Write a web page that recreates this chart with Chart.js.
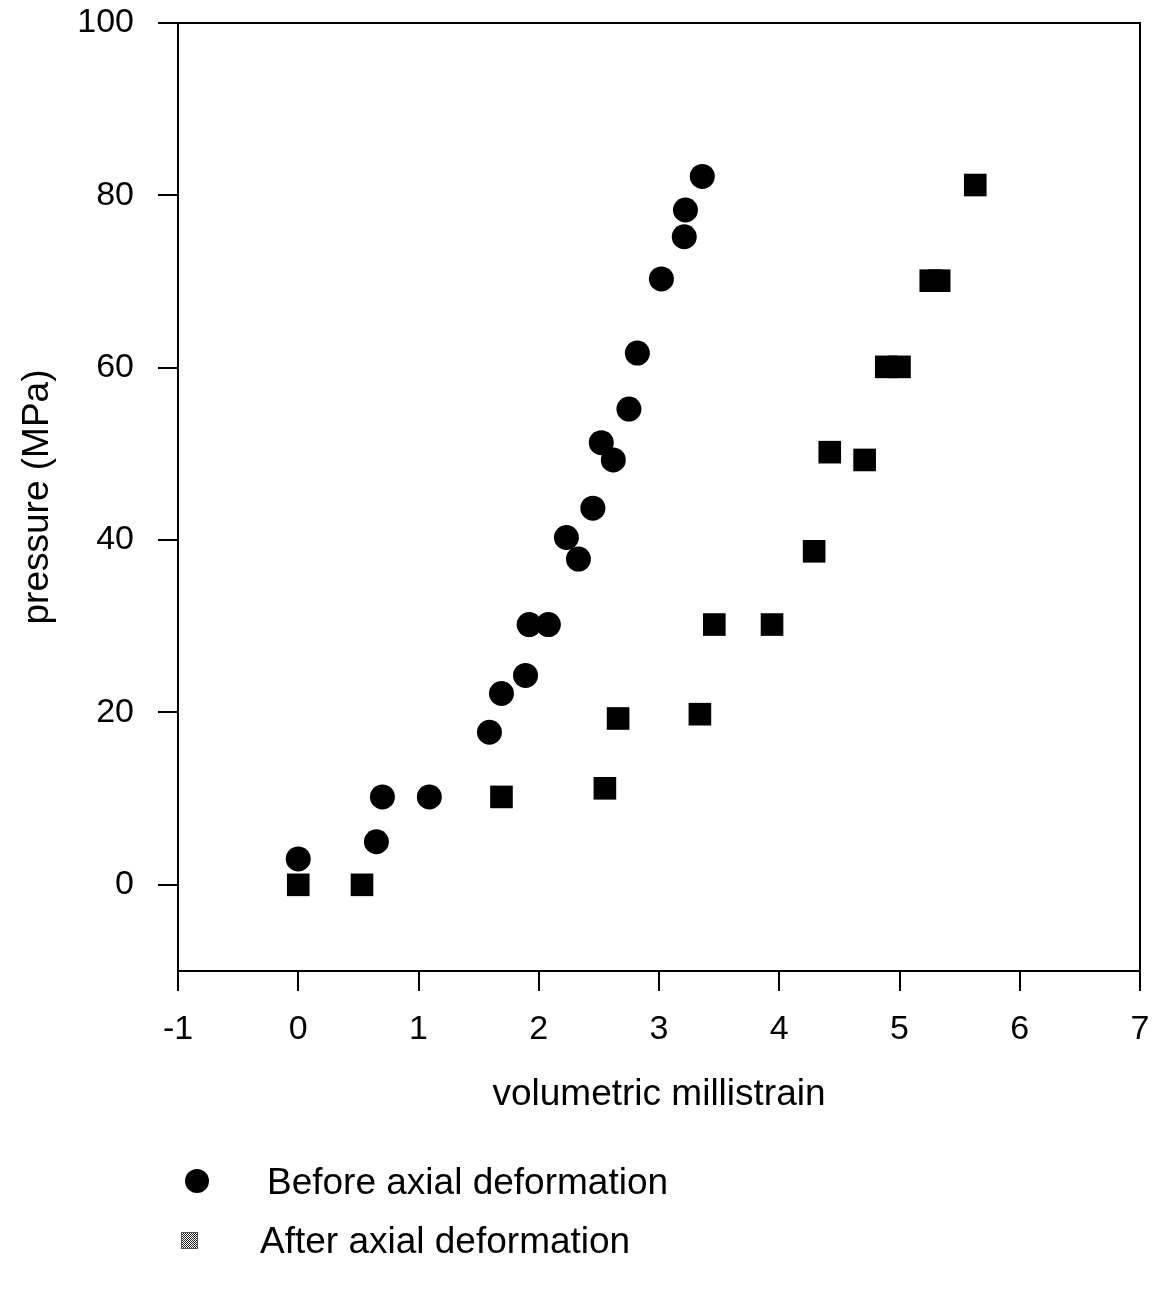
<!DOCTYPE html>
<html lang="en">
<head>
    <meta charset="UTF-8">
    <title>Pressure vs volumetric millistrain</title>
    <script src="https://cdn.jsdelivr.net/npm/chart.js"></script>
    <style>
        body { margin: 0; background: #fff; }
        #wrap { width: 1157px; height: 1291px; }
    </style>
</head>
<body>
<div id="wrap"><canvas id="chart" width="1157" height="1291"></canvas></div>
<script>
    // data
    const beforeX = [0, 0.65, 0.70, 1.09, 1.59, 1.69, 1.89, 1.92, 2.08, 2.23, 2.33, 2.45, 2.52, 2.62, 2.75, 2.82, 3.02, 3.21, 3.22, 3.36];
    const beforeY = [3.0, 5.0, 10.2, 10.2, 17.7, 22.2, 24.3, 30.2, 30.2, 40.3, 37.8, 43.7, 51.3, 49.3, 55.2, 61.7, 70.3, 75.2, 78.3, 82.2];
    const afterX = [0, 0.53, 1.69, 2.55, 2.66, 3.34, 3.46, 3.94, 4.29, 4.42, 4.71, 4.89, 5.00, 5.26, 5.33, 5.63];
    const afterY = [0, 0, 10.2, 11.2, 19.3, 19.8, 30.2, 30.2, 38.7, 50.2, 49.3, 60.1, 60.1, 70.1, 70.1, 81.2];
    const yTicks = [0, 20, 40, 60, 80, 100];
    const seriesNames = ['Before axial deformation', 'After axial deformation'];

    const toPoints = (xs, ys) => xs.map((x, i) => ({ x: x, y: ys[i] }));
    const font = 'Arial, "Liberation Sans", sans-serif';

    // dithered grey fill for the square legend entry
    function checker() {
        const c = document.createElement('canvas');
        c.width = 2; c.height = 2;
        const g = c.getContext('2d');
        g.fillStyle = '#fff'; g.fillRect(0, 0, 2, 2);
        g.fillStyle = '#222'; g.fillRect(0, 0, 1, 1); g.fillRect(1, 1, 1, 1);
        return c;
    }

    // frame round the plot + legend under the axis title
    const framePlugin = {
        id: 'frame',
        afterDraw(chart) {
            const { ctx, chartArea: a } = chart;
            ctx.save();
            ctx.strokeStyle = '#000';
            ctx.lineWidth = 2;
            ctx.strokeRect(a.left, a.top, a.right - a.left, a.bottom - a.top);

            ctx.font = '37px ' + font;
            ctx.fillStyle = '#000';
            ctx.textBaseline = 'middle';
            // circle entry
            ctx.beginPath();
            ctx.arc(197, 1181, 12, 0, Math.PI * 2);
            ctx.fill();
            ctx.fillText(chart.data.datasets[0].label, 267, 1184);
            // square entry
            ctx.fillStyle = ctx.createPattern(checker(), 'repeat');
            ctx.fillRect(181, 1232, 17, 17);
            ctx.strokeStyle = '#555';
            ctx.lineWidth = 1;
            ctx.strokeRect(181.5, 1232.5, 16, 16);
            ctx.fillStyle = '#000';
            ctx.fillText(chart.data.datasets[1].label, 260, 1243);
            ctx.restore();
        }
    };

    new Chart(document.getElementById('chart'), {
        type: 'scatter',
        data: {
            datasets: [
                { label: seriesNames[0], data: toPoints(beforeX, beforeY), pointStyle: 'circle', pointRadius: 12.5, backgroundColor: '#000', borderColor: '#000', borderWidth: 0 },
                { label: seriesNames[1], data: toPoints(afterX, afterY), pointStyle: 'rect', pointRadius: 16, backgroundColor: '#000', borderColor: '#000', borderWidth: 0 }
            ]
        },
        options: {
            responsive: false,
            animation: false,
            devicePixelRatio: 1,
            layout: { padding: { top: 23, right: 17, bottom: 174, left: 0 } },
            plugins: { legend: { display: false }, tooltip: { enabled: false } },
            scales: {
                x: {
                    type: 'linear', min: -1, max: 7,
                    afterFit: s => { s.height = 146; s.paddingLeft = 0; s.paddingRight = 0; },
                    ticks: { stepSize: 1, color: '#000', padding: 18, font: { family: font, size: 34 } },
                    grid: { drawOnChartArea: false, drawTicks: true, tickLength: 20, color: '#000', lineWidth: 2 },
                    border: { display: true, color: '#000', width: 2 },
                    title: { display: true, text: 'volumetric millistrain', color: '#000', padding: 0, font: { family: font, size: 37 } }
                },
                y: {
                    type: 'linear', min: -10, max: 100,
                    afterFit: s => { s.width = 178; s.paddingTop = 0; s.paddingBottom = 0; },
                    afterBuildTicks: s => { s.ticks = yTicks.map(v => ({ value: v })); },
                    ticks: { color: '#000', padding: 24, font: { family: font, size: 34 } },
                    grid: { drawOnChartArea: false, drawTicks: true, tickLength: 20, color: '#000', lineWidth: 2 },
                    border: { display: true, color: '#000', width: 2 },
                    title: { display: true, text: 'pressure (MPa)', color: '#000', padding: { top: 16, bottom: 0 }, font: { family: font, size: 37 } }
                }
            }
        },
        plugins: [framePlugin]
    });
</script>
</body>
</html>
